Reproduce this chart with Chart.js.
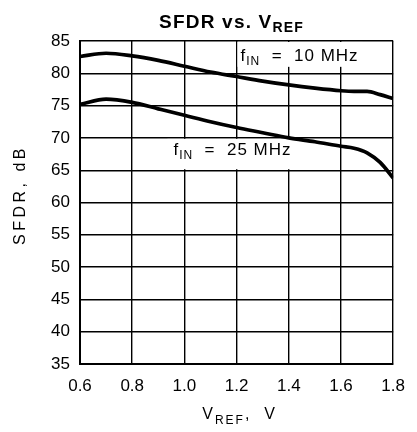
<!DOCTYPE html>
<html>
<head>
<meta charset="utf-8">
<script src="https://cdn.jsdelivr.net/npm/chart.js@4/dist/chart.umd.min.js"></script>
<style>
  html, body { margin: 0; padding: 0; background: #fff; }
  #wrap { width: 417px; height: 432px; }
</style>
</head>
<body>
<div id="wrap"><canvas id="myChart" width="417" height="432"></canvas></div>
<script>
// values
var vref = [0.6, 0.7, 0.8, 0.9, 1.0, 1.1, 1.2, 1.3, 1.4, 1.5, 1.6, 1.65, 1.7, 1.75, 1.8];
var sfdr10MHz = [82.6, 83.1, 82.7, 82.0, 81.1, 80.2, 79.5, 78.8, 78.2, 77.7, 77.3, 77.2, 77.2, 76.7, 76.1];
var sfdr25MHz = [75.2, 76.0, 75.5, 74.5, 73.5, 72.5, 71.6, 70.8, 70.0, 69.4, 68.7, 68.4, 67.7, 66.2, 63.8];
var xTicks = [0.6, 0.8, 1.0, 1.2, 1.4, 1.6, 1.8];
var yTicks = [35, 40, 45, 50, 55, 60, 65, 70, 75, 80, 85];

var FONT = '"Liberation Sans", Arial, sans-serif';

function toPoints(xs, ys) {
    var pts = [];
    for (var i = 0; i < xs.length; i++) {
        pts.push({ x: xs[i], y: ys[i] });
    }
    return pts;
}

// draw a run of text pieces, some of them as subscripts
function drawRuns(ctx, runs, x, y, align, spacing) {
    ctx.save();
    ctx.letterSpacing = spacing + 'px';
    ctx.textBaseline = 'alphabetic';
    ctx.textAlign = 'left';
    ctx.fillStyle = '#000';
    var total = 0;
    runs.forEach(function (r) {
        ctx.font = (r.bold ? 'bold ' : '') + r.size + 'px ' + FONT;
        r.w = ctx.measureText(r.text).width;
        total += r.w;
    });
    var cx = align === 'center' ? x - total / 2 : x;
    runs.forEach(function (r) {
        ctx.font = (r.bold ? 'bold ' : '') + r.size + 'px ' + FONT;
        ctx.fillText(r.text, cx, y + (r.dy || 0));
        cx += r.w;
    });
    ctx.restore();
    return total;
}

var curveLabels = [
    { x: 1.215, base: 81.9, top: 84.85, bottom: 81.0, padL: 3, padR: 4,
      runs: [{ text: 'f', size: 17 }, { text: 'IN', size: 12, dy: 4 }, { text: '  =  10 MHz', size: 17 }] },
    { x: 0.958, base: 67.35, top: 69.85, bottom: 65.15, padL: 6, padR: 8,
      runs: [{ text: 'f', size: 17 }, { text: 'IN', size: 12, dy: 4 }, { text: '  =  25 MHz', size: 17 }] }
];

var textPlugin = {
    id: 'textPlugin',
    beforeDatasetsDraw: function (chart) {
        var ctx = chart.ctx;
        var xs = chart.scales.x, ys = chart.scales.y;
        curveLabels.forEach(function (l) {
            var px = xs.getPixelForValue(l.x);
            // measure first, then white box over the grid, then the text
            var w = 0;
            ctx.save();
            ctx.letterSpacing = '1px';
            l.runs.forEach(function (r) {
                ctx.font = r.size + 'px ' + FONT;
                w += ctx.measureText(r.text).width;
            });
            ctx.restore();
            var top = ys.getPixelForValue(l.top), bottom = ys.getPixelForValue(l.bottom);
            ctx.fillStyle = '#fff';
            ctx.fillRect(px - l.padL, top, w + l.padL + l.padR, bottom - top);
            drawRuns(ctx, l.runs, px, ys.getPixelForValue(l.base), 'left', 1);
        });
    },
    afterDraw: function (chart) {
        var ctx = chart.ctx;
        var a = chart.chartArea;
        var mid = (a.left + a.right) / 2;
        // title
        drawRuns(ctx, [
            { text: 'SFDR vs. V', size: 19, bold: true },
            { text: 'REF', size: 14, bold: true, dy: 4 }
        ], mid - 5, 28, 'center', 1.2);
        // x axis title
        drawRuns(ctx, [
            { text: 'V', size: 16 },
            { text: 'REF', size: 12, dy: 5 },
            { text: ',  V', size: 16 }
        ], mid + 3, 419, 'center', 2);
        // y axis title
        ctx.save();
        ctx.translate(25, 195);
        ctx.rotate(-Math.PI / 2);
        drawRuns(ctx, [{ text: 'SFDR, dB', size: 16 }], 0, 0, 'center', 3.5);
        ctx.restore();
    }
};

new Chart(document.querySelector('#myChart'), {
    type: 'line',
    data: {
        datasets: [{
            label: 'fIN = 10 MHz',
            data: toPoints(vref, sfdr10MHz),
            borderColor: '#000',
            borderWidth: 3.7,
            pointRadius: 0,
            cubicInterpolationMode: 'monotone',
            fill: false
        }, {
            label: 'fIN = 25 MHz',
            data: toPoints(vref, sfdr25MHz),
            borderColor: '#000',
            borderWidth: 3.7,
            pointRadius: 0,
            cubicInterpolationMode: 'monotone',
            fill: false
        }]
    },
    options: {
        responsive: false,
        animation: false,
        devicePixelRatio: 1,
        layout: { padding: { top: 41, right: 13, bottom: 0, left: 0 } },
        plugins: {
            legend: { display: false },
            tooltip: { enabled: false },
            title: { display: false }
        },
        scales: {
            x: {
                type: 'linear',
                min: 0.6,
                max: 1.8,
                afterFit: function (s) { s.height = 68; },
                afterBuildTicks: function (s) {
                    s.ticks = xTicks.map(function (v) { return { value: v }; });
                },
                ticks: {
                    color: '#000',
                    padding: 12,
                    font: { family: FONT, size: 17 },
                    callback: function (v) { return Number(v).toFixed(1); }
                },
                grid: { color: '#000', lineWidth: 1.4, drawTicks: false },
                border: { color: '#000', width: 2 }
            },
            y: {
                min: 35,
                max: 85,
                afterFit: function (s) { s.width = 80; },
                afterBuildTicks: function (s) {
                    s.ticks = yTicks.map(function (v) { return { value: v }; });
                },
                ticks: {
                    color: '#000',
                    padding: 10,
                    font: { family: FONT, size: 17 }
                },
                grid: { color: '#000', lineWidth: 1.4, drawTicks: false },
                border: { color: '#000', width: 2 }
            }
        }
    },
    plugins: [textPlugin]
});
</script>
</body>
</html>
